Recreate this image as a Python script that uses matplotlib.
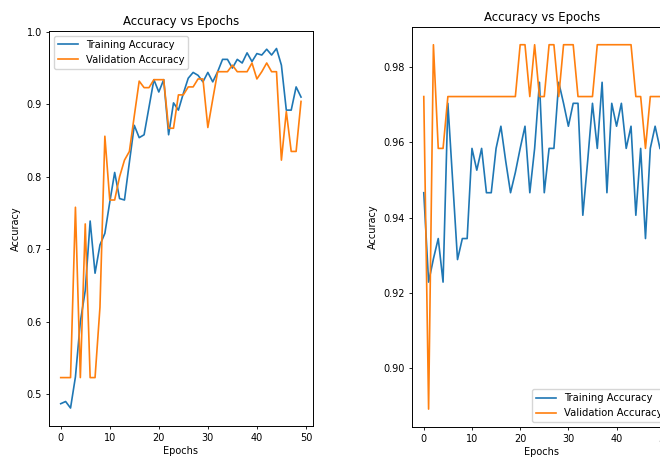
import matplotlib
matplotlib.use("Agg")
import matplotlib.pyplot as plt

epochs = list(range(50))

# left run
train_acc_1 = [0.487, 0.490, 0.481, 0.524, 0.600, 0.643, 0.739, 0.667, 0.706, 0.722,
               0.765, 0.806, 0.770, 0.768, 0.820, 0.871, 0.854, 0.858, 0.896, 0.934,
               0.917, 0.934, 0.858, 0.902, 0.892, 0.915, 0.936, 0.944, 0.940, 0.931,
               0.944, 0.931, 0.945, 0.962, 0.962, 0.950, 0.962, 0.957, 0.971, 0.959,
               0.970, 0.968, 0.976, 0.968, 0.977, 0.954, 0.892, 0.892, 0.924, 0.910]
val_acc_1 = [0.523, 0.523, 0.523, 0.758, 0.523, 0.735, 0.523, 0.523, 0.620, 0.856,
             0.768, 0.768, 0.800, 0.823, 0.835, 0.884, 0.932, 0.923, 0.923, 0.934,
             0.934, 0.934, 0.867, 0.867, 0.913, 0.913, 0.924, 0.924, 0.935, 0.935,
             0.868, 0.907, 0.945, 0.945, 0.945, 0.954, 0.945, 0.945, 0.945, 0.957,
             0.935, 0.945, 0.957, 0.945, 0.945, 0.823, 0.890, 0.835, 0.835, 0.904]

# right run
train_acc_2 = [0.9466, 0.9228, 0.9290, 0.9344, 0.9228, 0.9704, 0.9496, 0.9288, 0.9344, 0.9344,
               0.9584, 0.9526, 0.9584, 0.9466, 0.9466, 0.9584, 0.9643, 0.9550, 0.9466, 0.9520,
               0.9584, 0.9643, 0.9466, 0.9584, 0.9760, 0.9466, 0.9584, 0.9584, 0.9760, 0.9704,
               0.9643, 0.9704, 0.9704, 0.9406, 0.9550, 0.9704, 0.9584, 0.9760, 0.9466, 0.9704,
               0.9643, 0.9704, 0.9584, 0.9643, 0.9406, 0.9584, 0.9344, 0.9584, 0.9643, 0.9584]
val_acc_2 = [0.9722, 0.8890, 0.9860, 0.9584, 0.9584, 0.9722, 0.9722, 0.9722, 0.9722, 0.9722,
             0.9722, 0.9722, 0.9722, 0.9722, 0.9722, 0.9722, 0.9722, 0.9722, 0.9722, 0.9722,
             0.9860, 0.9860, 0.9722, 0.9860, 0.9722, 0.9722, 0.9860, 0.9860, 0.9722, 0.9860,
             0.9860, 0.9860, 0.9722, 0.9722, 0.9722, 0.9722, 0.9860, 0.9860, 0.9860, 0.9860,
             0.9860, 0.9860, 0.9860, 0.9860, 0.9722, 0.9722, 0.9584, 0.9722, 0.9722, 0.9722]

plt.rcParams.update({
    'font.size': 7,
    'axes.titlesize': 8.5,
    'axes.labelsize': 7,
    'xtick.labelsize': 7,
    'ytick.labelsize': 7,
    'legend.fontsize': 7.2,
    'lines.linewidth': 1.2,
    'axes.linewidth': 0.7,
    'xtick.major.size': 2.5,
    'ytick.major.size': 2.5,
    'xtick.major.width': 0.6,
    'ytick.major.width': 0.6,
    'xtick.major.pad': 2.5,
    'ytick.major.pad': 2.5,
})

fig = plt.figure(figsize=(6.6, 4.57), dpi=100)

ax1 = fig.add_axes([0.0738, 0.0678, 0.4005, 0.8654])
ax1.plot(epochs, train_acc_1, label='Training Accuracy')
ax1.plot(epochs, val_acc_1, label='Validation Accuracy')
ax1.set_title('Accuracy vs Epochs', pad=4)
ax1.set_xlabel('Epochs', labelpad=2)
ax1.set_ylabel('Accuracy', labelpad=4)
ax1.legend(loc='upper left')

# right panel runs past the figure edge, as in the cropped screenshot
ax2 = fig.add_axes([0.6242, 0.065, 0.3936, 0.877])
ax2.plot(epochs, train_acc_2, label='Training Accuracy')
ax2.plot(epochs, val_acc_2, label='Validation Accuracy')
ax2.set_title('Accuracy vs Epochs', pad=4)
ax2.set_xlabel('Epochs', labelpad=2)
ax2.set_ylabel('Accuracy', labelpad=4)
ax2.legend(loc='lower right')

fig.savefig('out.png', dpi=100)
